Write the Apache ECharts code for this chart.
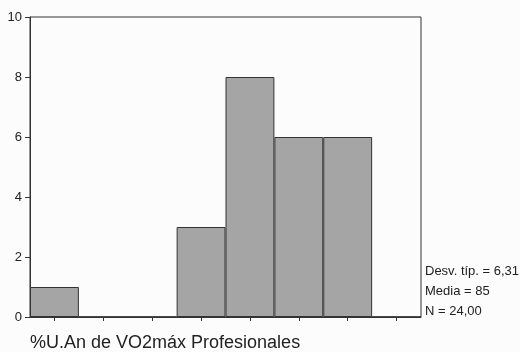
<!DOCTYPE html>
<html>
<head>
<meta charset="utf-8">
<script src="https://cdn.jsdelivr.net/npm/echarts@6/dist/echarts.min.js"></script>
<style>
html,body{margin:0;padding:0;background:#fcfcfc;}
#c{width:520px;height:352px;}
</style>
</head>
<body>
<div id="c"></div>
<script>
var categories = ['62,5','67,5','72,5','77,5','82,5','87,5','92,5','97,5'];
var counts = [1, 0, 0, 3, 8, 6, 6, 0];
var yTicks = [0, 2, 4, 6, 8, 10];
var statsLines = ['Desv. típ. = 6,31', 'Media = 85', 'N = 24,00'];
var xTitle = '%U.An de VO2máx Profesionales';

var chart = echarts.init(document.getElementById('c'));
var font = 'Liberation Sans, Arial, sans-serif';
chart.setOption({
  backgroundColor: '#fcfcfc',
  animation: false,
  grid: {left: 30, right: 99, top: 17, bottom: 35, show: true, borderColor: '#333', borderWidth: 1, backgroundColor: 'transparent'},
  xAxis: {
    type: 'category',
    data: categories,
    boundaryGap: true,
    axisLine: {lineStyle: {color: '#333', width: 1}},
    axisTick: {show: true, alignWithLabel: true, length: 4, lineStyle: {color: '#333'}},
    axisLabel: {show: false}
  },
  yAxis: {
    type: 'value',
    min: yTicks[0],
    max: yTicks[yTicks.length - 1],
    interval: 2,
    splitLine: {show: false},
    axisLine: {show: true, lineStyle: {color: '#333', width: 1}},
    axisTick: {show: true, length: 5, lineStyle: {color: '#333'}},
    axisLabel: {color: '#222', fontSize: 13, fontFamily: font, margin: 8}
  },
  series: [{
    type: 'bar',
    data: counts,
    barWidth: '100%',
    barCategoryGap: 0,
    itemStyle: {color: '#a5a5a5', borderColor: '#333', borderWidth: 1}
  }],
  graphic: [
    {type: 'text', left: 30, top: 334, style: {text: xTitle, fill: '#222', font: '18px ' + font}}
  ].concat(statsLines.map(function (s, i) {
    return {type: 'text', left: 425, top: 265 + i * 20, style: {text: s, fill: '#222', font: '13px ' + font}};
  }))
});
</script>
</body>
</html>
